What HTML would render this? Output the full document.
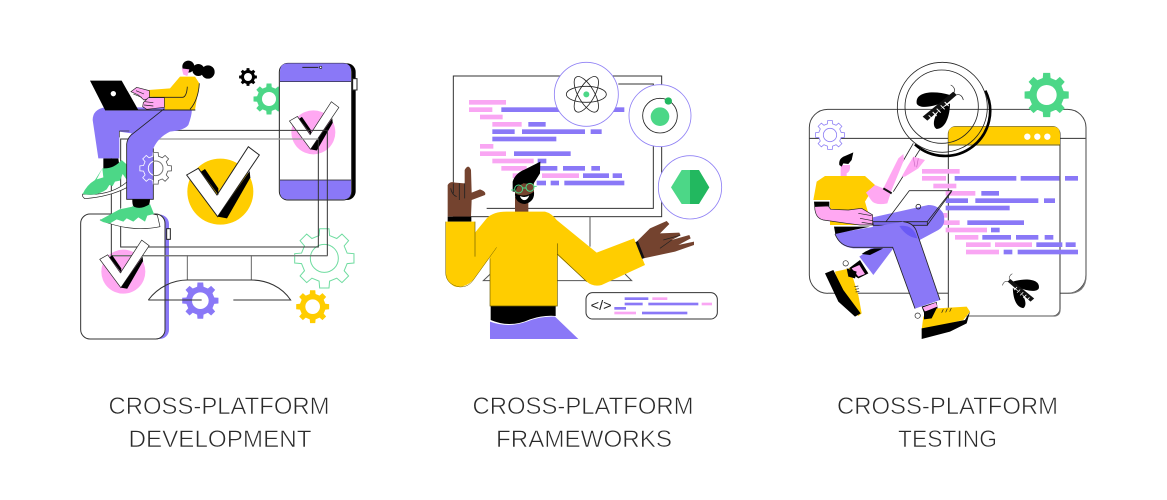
<!DOCTYPE html>
<html><head><meta charset="utf-8"><title>Cross-platform</title>
<style>html,body{margin:0;padding:0;background:#fff;width:1167px;height:500px;overflow:hidden}svg{display:block}
.lb{font-family:"Liberation Sans",sans-serif;font-size:24px;fill:#2a2a2a;stroke:#fff;stroke-width:.6px}
.p{fill:#f9a6f3}.u{fill:#8a78f7}.y{fill:#ffcd00}.g{fill:#4cd787}.k{fill:#000}.w{fill:#fff}.s{fill:#ffa8f2}
.l{fill:none;stroke:#222;stroke-width:3}.b{fill:#74432f}
.gear{vector-effect:non-scaling-stroke}
</style></head><body>
<svg width="1167" height="500" viewBox="0 0 1167 500" xmlns="http://www.w3.org/2000/svg">
<defs>
<clipPath id="legc"><rect x="170" y="262" width="80" height="186"/></clipPath>
<polygon id="gr" class="gear" points=".76,-.175 .988,-.156 .988,.156 .76,.175 .661,.414 .809,.588 .588,.809 .414,.661 .175,.76 .156,.988 -.156,.988 -.175,.76 -.414,.661 -.588,.809 -.809,.588 -.661,.414 -.76,.175 -.988,.156 -.988,-.156 -.76,-.175 -.661,-.414 -.809,-.588 -.588,-.809 -.414,-.661 -.175,-.76 -.156,-.988 .156,-.988 .175,-.76 .414,-.661 .588,-.809 .809,-.588 .661,-.414"/>
<g id="chk">
<polygon class="w" points="-101,-50 -66,-70 -10,10 84,-135 117,-110 -8,75" stroke="#222" stroke-width="3"/>
<polygon class="k" points="-58,-60 -46,-68 -6,-10 -6,10"/>
<polygon class="k" points="-8,75 88,-62 90,-42 20,80"/>
</g>
<g id="bug">
<path class="k" d="M30 -35C-20 -50 -75 -45 -70 -10C-65 5 -30 5 15 -15Z"/>
<path class="k" d="M30 -10C30 20 20 65 -10 67C-25 60 -20 25 5 5Z"/>
<path d="M-52 30L40 -45L50 -35L-38 42Z" fill="#111"/>
<path d="M-34 26L-22 38M-22 16L-10 28M-10 6L2 18M2 -4L14 8M14 -14L26 -2" stroke="#fff" stroke-width="3"/>
<path d="M42 -42C48 -50 40 -62 32 -65M48 -35C60 -40 68 -30 70 -20" fill="none" stroke="#222" stroke-width="2"/>
</g>
</defs>

<!-- PANEL 1 -->
<g transform="translate(70 50) scale(.33333)">
<use href="#gr" transform="translate(597 147) scale(47)" fill="#4cd787"/><circle cx="597" cy="147" r="21" fill="#fff"/>
<use href="#gr" transform="translate(534 81) scale(27)" fill="#000"/><circle cx="534" cy="81" r="12" fill="#fff"/>
<!-- big check -->
<circle cx="451" cy="425" r="99" class="y"/>
<use href="#chk" transform="translate(451 425)"/>
<!-- phone right -->
<rect x="640" y="40" width="217" height="410" rx="26" class="k"/>
<rect x="848" y="86" width="13" height="34" fill="#fff" stroke="#222" stroke-width="3"/>
<rect x="628" y="40" width="217" height="410" rx="26" fill="#fff" stroke="#222" stroke-width="3"/>
<path class="u" d="M654 40H819Q843 40 843 64V95H630V64Q630 40 654 40Z"/>
<path class="u" d="M630 390H843V424Q843 448 819 448H654Q630 448 630 424Z"/>
<path d="M630 95H843M630 390H843" stroke="#222" stroke-width="2"/>
<path d="M697 52H745" stroke="#222" stroke-width="3"/><circle cx="752" cy="52" r="3.5" fill="#fff" stroke="#222" stroke-width="2"/>
<circle cx="730" cy="247" r="66" class="s"/>
<use href="#chk" transform="translate(727 247) scale(.68)"/>
<!-- green outline gear -->
<use href="#gr" transform="translate(763 625) scale(90)" fill="#fff" stroke="#6fdca0" stroke-width="1"/><circle cx="763" cy="625" r="42" fill="none" stroke="#6fdca0" stroke-width="3"/>
<!-- phone left -->
<rect x="52" y="494" width="245" height="373" rx="28" class="u"/>
<rect x="32" y="492" width="253" height="375" rx="28" fill="#fff" stroke="#333" stroke-width="3"/>
<rect x="290" y="536" width="11" height="32" fill="#fff" stroke="#222" stroke-width="3"/>
<circle cx="160" cy="665" r="66" class="s"/>
<!-- monitor lines, drawn over devices -->
<path d="M124 241H772V617H124Z" fill="none" stroke="#333" stroke-width="3"/>
<path d="M124 617H772" stroke="#777" stroke-width="4"/>
<path d="M152 267H745V591H152Z" fill="none" stroke="#333" stroke-width="3"/>
<path d="M250 267H745" stroke="#999" stroke-width="4"/>
<path d="M352 617V690M544 617V690" stroke="#666" stroke-width="3"/>
<path d="M235 750C265 710 310 690 352 690H544C590 690 635 710 662 750H490M400 750H235" fill="none" stroke="#333" stroke-width="3"/>
<use href="#chk" transform="translate(158 662) scale(.68)"/>
<use href="#gr" transform="translate(391 752) scale(55)" fill="#8a78f7"/><circle cx="391" cy="752" r="25" fill="#fff"/>
<path d="M235 750H395" stroke="#333" stroke-width="3"/>
<use href="#gr" transform="translate(728 770) scale(50)" fill="#ffcd00"/><circle cx="728" cy="770" r="22" fill="#fff"/>
<!-- outline gear (outside leg) -->
<use href="#gr" transform="translate(257 355) scale(48)" fill="#fff" stroke="#555" stroke-width=".8"/>
<circle cx="257" cy="355" r="22" fill="none" stroke="#777" stroke-width="3"/>
<!-- back ankle and shoe -->
<path d="M100 325H145L150 360H100Z" class="k"/>
<path d="M38 432Q120 440 172 395V412Q120 440 45 446Q35 440 38 432Z" fill="#fff" stroke="#222" stroke-width="2"/>
<path d="M97 355L75 390Q50 405 38 432Q80 440 110 418L118 405L128 408L135 395L150 392L158 372L172 392V345L155 330Q130 358 97 355Z" class="g"/>
<path d="M97 355L80 388L100 382Z" fill="#fff"/>
<!-- legs -->
<path class="u" d="M105 172H365Q368 190 355 225Q345 240 300 245Q265 262 250 295V448H170V285Q172 265 185 250L148 245V325H85L68 210Q68 178 105 172Z"/>
<path d="M283 176L190 250Q172 262 170 282V448H250V295" fill="none" stroke="#222" stroke-width="2.5"/>
<path d="M148 243H178M148 243V262" stroke="#333" stroke-width="2"/>
<g clip-path="url(#legc)">
<use href="#gr" transform="translate(257 355) scale(48)" fill="none" stroke="#fff" stroke-width=".8"/>
<circle cx="257" cy="355" r="22" fill="none" stroke="#fff" stroke-width="3"/>
</g>
<!-- torso -->
<path class="y" d="M235 120L300 115L330 80H375L388 100L375 180H285L280 143L235 140Z"/>
<path d="M235 142H338Q350 140 352 110M388 100Q385 150 360 178" fill="none" stroke="#222" stroke-width="2.5"/>
<path d="M105 180H376" stroke="#222" stroke-width="3"/>
<!-- head -->
<circle cx="355" cy="50" r="18" class="k"/><circle cx="385" cy="60" r="18" class="k"/><circle cx="414" cy="66" r="20" class="k"/>
<path class="s" d="M335 55L358 58L352 78L340 74Z"/>
<!-- laptop -->
<polygon class="k" points="60,92 155,92 205,180 105,180"/>
<circle cx="130" cy="131" r="8" class="w"/>
<path class="w" d="M195 135H225V155H198Z"/>
<path class="s" d="M183 125L200 112L238 122V145L222 150L205 135Z" stroke="#222" stroke-width="2"/>
<path class="s" d="M220 158L235 143H283V172L230 178L218 170Z" stroke="#222" stroke-width="2"/>
<path d="M198 122L222 132M190 132L215 142M225 155L250 158M222 165L250 168" stroke="#222" stroke-width="2"/>
<!-- ankle & shoe -->
<path class="k" d="M187 448H240Q240 478 210 480Q185 478 187 448Z"/>
<path d="M90 510Q180 548 270 530L262 495L240 490L120 508Z" fill="#fff" stroke="#222" stroke-width="2"/>
<path class="g" d="M90 510L145 480L180 462Q205 485 240 462L252 492L232 497L225 515L205 502L190 515L170 505L160 515L140 508L120 520Q95 518 90 510Z"/>
<path d="M148 478L180 458L188 470Z" fill="#fff"/>
</g>

<!-- PANEL 2 -->
<g transform="translate(430 50) scale(.33333)">
<rect x="70" y="78" width="625" height="422" fill="#fff" stroke="#333" stroke-width="3"/>
<path d="M170 475H670V102H565" fill="none" stroke="#333" stroke-width="3"/>
<path d="M480 500V590M183 670L160 692H605L585 672" fill="none" stroke="#555" stroke-width="3"/>
<g class="p">
<rect x="117" y="150" width="111" height="14"/><rect x="117" y="172" width="70" height="14"/><rect x="150" y="194" width="68" height="14"/><rect x="187" y="216" width="88" height="14"/><rect x="150" y="282" width="40" height="14"/><rect x="150" y="304" width="78" height="14"/><rect x="187" y="326" width="124" height="14"/><rect x="214" y="348" width="76" height="14"/><rect x="248" y="370" width="72" height="14"/><rect x="336" y="370" width="111" height="14"/>
</g>
<g class="u">
<rect x="214" y="172" width="369" height="14"/><rect x="295" y="216" width="52" height="14"/><rect x="187" y="238" width="67" height="14"/><rect x="276" y="238" width="189" height="14"/><rect x="482" y="238" width="33" height="14"/><rect x="187" y="260" width="192" height="14"/><rect x="252" y="304" width="170" height="14"/><rect x="323" y="326" width="26" height="14"/><rect x="330" y="348" width="52" height="14"/><rect x="399" y="348" width="66" height="14"/><rect x="484" y="348" width="26" height="14"/><rect x="459" y="370" width="78" height="14"/><rect x="548" y="370" width="28" height="14"/><rect x="320" y="392" width="28" height="14"/><rect x="362" y="392" width="25" height="14"/><rect x="403" y="392" width="180" height="14"/>
</g>
<g fill="#fff" stroke="#8f80f5" stroke-width="2.5">
<circle cx="469" cy="133" r="96"/><circle cx="690" cy="197" r="93"/><circle cx="780" cy="412" r="95"/></g>
<g fill="none" stroke="#222" stroke-width="2.5">
<ellipse cx="469" cy="133" rx="60" ry="24"/><ellipse cx="469" cy="133" rx="60" ry="24" transform="rotate(60 469 133)"/><ellipse cx="469" cy="133" rx="60" ry="24" transform="rotate(-60 469 133)"/>
<circle cx="690" cy="197" r="52"/></g>
<circle cx="469" cy="133" r="9" class="g"/>
<circle cx="690" cy="200" r="28" class="g"/><circle cx="715" cy="153" r="11" fill="#22b85f"/>
<polygon class="g" points="723,412 755,360 782,360 782,462 755,462"/>
<polygon fill="#22b85f" points="780,360 807,360 838,412 807,462 780,462"/>
<!-- hand -->
<path class="b" d="M53 500V405Q60 393 75 398L104 400V360Q115 340 123 360L125 428L150 418Q170 425 165 435L125 450L123 500Z"/>
<path d="M70 400V430M88 400V450M104 400V445M62 415Q66 435 80 440" fill="none" stroke="#222" stroke-width="2.5"/>
<rect x="53" y="500" width="71" height="15" class="k"/>
<!-- neck/head -->
<rect x="255" y="440" width="40" height="50" class="b"/>
<path class="b" d="M255 400H312V435Q300 460 275 460Q258 455 255 435Z"/>
<path class="k" d="M255 430Q285 445 312 425Q315 455 285 462Q255 460 255 430Z"/>
<path class="w" d="M270 438Q285 445 298 436Q292 452 280 450Q272 447 270 438Z"/>
<path class="k" d="M248 425V395Q255 370 285 358L331 335L330 370L310 402L280 400L262 410L256 425Z"/>
<path d="M243 420H253M278 414H288M312 409H320" stroke="#4cd787" stroke-width="3"/>
<circle cx="266" cy="417" r="12" fill="none" stroke="#4cd787" stroke-width="3"/><circle cx="300" cy="412" r="12" fill="none" stroke="#4cd787" stroke-width="3"/>
<!-- sweater -->
<path class="k" d="M182 765H377V798Q340 795 300 808Q240 835 182 810Z"/>
<path class="u" d="M180 815Q235 835 290 815Q330 798 375 800L445 867H180Z"/>
<path class="y" d="M47 515H135V548L170 505Q190 485 230 485H345Q365 490 380 510L500 608L612 565L645 645L515 705Q490 712 470 695L382 615V768H180V622L130 690Q105 715 75 710Q47 695 47 670Z"/>
<path d="M135 515V620M382 580V768H180V625M470 695L382 612" fill="none" stroke="#6b5b00" stroke-width="2"/>
<path d="M47 515V670Q50 705 90 711Q115 712 130 690L200 592" fill="none" stroke="#6b5b00" stroke-width="1.5"/>
<path class="b" d="M620 575L660 535L710 513L718 522L690 550L748 548L752 556L725 570L778 555L782 565L745 585L792 575V585L735 605L640 625Z"/>
<path d="M620 575L640 625" stroke="#111" stroke-width="8"/>
<path d="M690 595L725 570M700 570L750 556" stroke="#222" stroke-width="2"/>
<!-- code box -->
<rect x="468" y="728" width="394" height="79" rx="20" fill="#fff" stroke="#333" stroke-width="3"/>
<text x="482" y="780" font-family="Liberation Sans,sans-serif" font-size="42" fill="#222" textLength="63" lengthAdjust="spacingAndGlyphs">&lt;/&gt;</text>
<g class="u"><rect x="584" y="742" width="71" height="8"/><rect x="584" y="758" width="54" height="8"/><rect x="655" y="758" width="150" height="8"/><rect x="553" y="771" width="35" height="8"/><rect x="636" y="785" width="136" height="8"/></g>
<g class="p"><rect x="667" y="742" width="45" height="8"/><rect x="815" y="758" width="31" height="8"/><rect x="553" y="785" width="65" height="8"/></g>
</g>

<!-- PANEL 3 -->
<g transform="translate(800 50) scale(.33333)">
<rect x="28" y="178" width="830" height="552" rx="55" fill="#fff" stroke="#444" stroke-width="3"/>
<path d="M28 265H858" stroke="#333" stroke-width="3"/>
<path d="M858 265V675Q858 730 803 730H83" fill="none" stroke="#777" stroke-width="4"/>
<use href="#gr" transform="translate(90 255) scale(44)" fill="#fff" stroke="#8f80f5" stroke-width=".8"/><circle cx="90" cy="255" r="20" fill="none" stroke="#8f80f5" stroke-width="2.5"/>
<use href="#gr" transform="translate(740 135) scale(67)" fill="#4cd787"/><circle cx="740" cy="135" r="30" fill="#fff"/>
<rect x="445" y="230" width="335" height="568" rx="22" fill="#fff" stroke="#333" stroke-width="3"/>
<path d="M780 778Q780 798 760 798H465Q445 798 445 778" fill="none" stroke="#777" stroke-width="4"/>
<path class="y" d="M467 230H758Q780 230 780 252V283H445V252Q445 230 467 230Z"/>
<path d="M445 285H780" stroke="#6b5b00" stroke-width="3"/>
<circle cx="682" cy="260" r="9.5" class="w"/><circle cx="712" cy="260" r="9.5" class="w"/><circle cx="742" cy="260" r="9.5" class="w"/>
<g class="p">
<rect x="366" y="357" width="113" height="14"/><rect x="366" y="378" width="72" height="14"/><rect x="400" y="401" width="69" height="14"/><rect x="437" y="423" width="89" height="14"/><rect x="430" y="489" width="12" height="14"/><rect x="430" y="511" width="49" height="14"/><rect x="437" y="533" width="124" height="14"/><rect x="465" y="555" width="70" height="14"/><rect x="498" y="577" width="74" height="14"/><rect x="585" y="577" width="111" height="14"/><rect x="498" y="599" width="99" height="14"/>
</g>
<g class="u">
<rect x="464" y="378" width="185" height="14"/><rect x="662" y="378" width="116" height="14"/><rect x="795" y="378" width="39" height="14"/><rect x="544" y="423" width="53" height="14"/><rect x="437" y="445" width="67" height="14"/><rect x="526" y="445" width="189" height="14"/><rect x="732" y="445" width="33" height="14"/><rect x="437" y="467" width="192" height="14"/><rect x="502" y="511" width="170" height="14"/><rect x="573" y="533" width="26" height="14"/><rect x="547" y="555" width="86" height="14"/><rect x="648" y="555" width="67" height="14"/><rect x="734" y="555" width="26" height="14"/><rect x="709" y="577" width="78" height="14"/><rect x="797" y="577" width="30" height="14"/><rect x="611" y="599" width="26" height="14"/><rect x="653" y="599" width="181" height="14"/>
</g>
<use href="#bug" transform="translate(662 722) scale(-.78 .78)"/>
<!-- magnifier -->
<path d="M345 283A135 135 0 0 0 556 122" fill="none" stroke="#000" stroke-width="8"/>
<circle cx="427" cy="172" r="135" fill="none" stroke="#222" stroke-width="2.5"/>
<circle cx="425" cy="170" r="110" fill="none" stroke="#222" stroke-width="2.5"/>
<use href="#bug" transform="translate(420 170)"/>
<path d="M340 280L262 415M362 295L280 425" fill="none" stroke="#222" stroke-width="2.5"/>
<!-- back leg/laptop -->
<path class="u" d="M218 502L385 465Q415 465 430 490Q440 525 415 540L350 575L280 595L220 675L178 620L220 590Z"/>
<path class="k" d="M185 612Q215 590 250 595L210 615Z"/>
<path d="M258 515L328 422H455L382 515" fill="none" stroke="#222" stroke-width="2.5"/>
<path d="M218 515H382V526H220Z" fill="#7a68e8" stroke="#222" stroke-width="2.5"/>
<circle cx="355" cy="470" r="7" fill="none" stroke="#222" stroke-width="2.5"/>
<path d="M382 525L455 424" stroke="#222" stroke-width="2.5"/>
<!-- front leg -->
<path class="u" d="M105 550L310 515Q340 518 348 540L420 750L345 776L278 595H160Q115 590 105 550Z"/>
<path d="M298 528Q340 522 352 565Q320 562 298 528Z" fill="#6a5af5"/>
<path d="M105 552Q120 590 160 592H278L345 776M420 750L348 540Q338 518 310 515" fill="none" stroke="#222" stroke-width="2.5"/>
<path class="k" d="M102 530H210Q160 540 106 552Z"/>
<!-- body -->
<path class="y" d="M40 450L50 395L75 378H195L225 405L195 455L215 525H90V450Z"/>
<path class="k" d="M42 455H88V472L44 478Z"/>
<path class="s" d="M44 470L85 468L92 478L145 480L185 475L218 495L218 525L180 525L140 520L70 510Q45 505 44 470Z" stroke="#222" stroke-width="2"/>
<path d="M175 490L215 497M180 505L218 512M185 517L218 522" stroke="#222" stroke-width="2"/>
<path class="s" d="M198 428L225 405L250 415L295 325L310 312L312 330L275 420L262 460Q225 468 213 450Z"/>
<path class="s" d="M305 380L322 350L340 320L375 330L355 355L315 380Z"/>
<path d="M250 415L275 430" stroke="#111" stroke-width="6"/>
<path d="M340 322L345 350M355 325L350 352" stroke="#c96ac0" stroke-width="2"/>
<!-- head -->
<path class="s" d="M122 345H150Q152 365 140 370V378H122Z"/>
<path class="k" d="M118 345Q115 325 135 318L160 307L155 330L145 342L130 340L125 350Z"/>
<!-- left foot -->
<path class="k" d="M140 660L180 630L205 670L175 685Z"/>
<path class="s" d="M155 655L178 645L195 672L175 680Z"/>
<path class="y" d="M105 665L150 655L175 735L185 790L175 798L125 740Z"/>
<path class="k" d="M75 670L100 660L130 720L182 790L165 800L115 755Z"/>
<path class="k" d="M140 655L170 665L165 685L145 680Z"/>
<circle cx="137" cy="640" r="8" fill="#fff" stroke="#222" stroke-width="2"/>
<path d="M163 710L175 708M165 718L177 716M167 726L178 724" stroke="#222" stroke-width="2"/>
<!-- right foot -->
<path class="k" d="M365 770L410 756L415 790L380 810Z"/>
<path class="s" d="M368 772L408 758L412 770L375 785Z"/>
<path class="y" d="M370 800L410 775L500 770L510 785L490 810L365 840Z"/>
<path class="k" d="M365 835L495 810L510 785L500 820L450 845L365 867Z"/>
<path class="k" d="M372 785L410 775L395 805L372 808Z"/>
<circle cx="353" cy="797" r="8" fill="#fff" stroke="#222" stroke-width="2"/>
<path d="M425 788L430 778M437 787L442 776M449 785L454 774" stroke="#222" stroke-width="2"/>
</g>

<!-- LABELS -->
<text class="lb" x="108.5" y="414" textLength="221" lengthAdjust="spacingAndGlyphs">CROSS-PLATFORM</text>
<text class="lb" x="128.5" y="447" textLength="183" lengthAdjust="spacingAndGlyphs">DEVELOPMENT</text>
<text class="lb" x="472.5" y="414" textLength="221" lengthAdjust="spacingAndGlyphs">CROSS-PLATFORM</text>
<text class="lb" x="496" y="447" textLength="176" lengthAdjust="spacingAndGlyphs">FRAMEWORKS</text>
<text class="lb" x="837" y="414" textLength="221" lengthAdjust="spacingAndGlyphs">CROSS-PLATFORM</text>
<text class="lb" x="898" y="447" textLength="99" lengthAdjust="spacingAndGlyphs">TESTING</text>
</svg>
</body></html>
